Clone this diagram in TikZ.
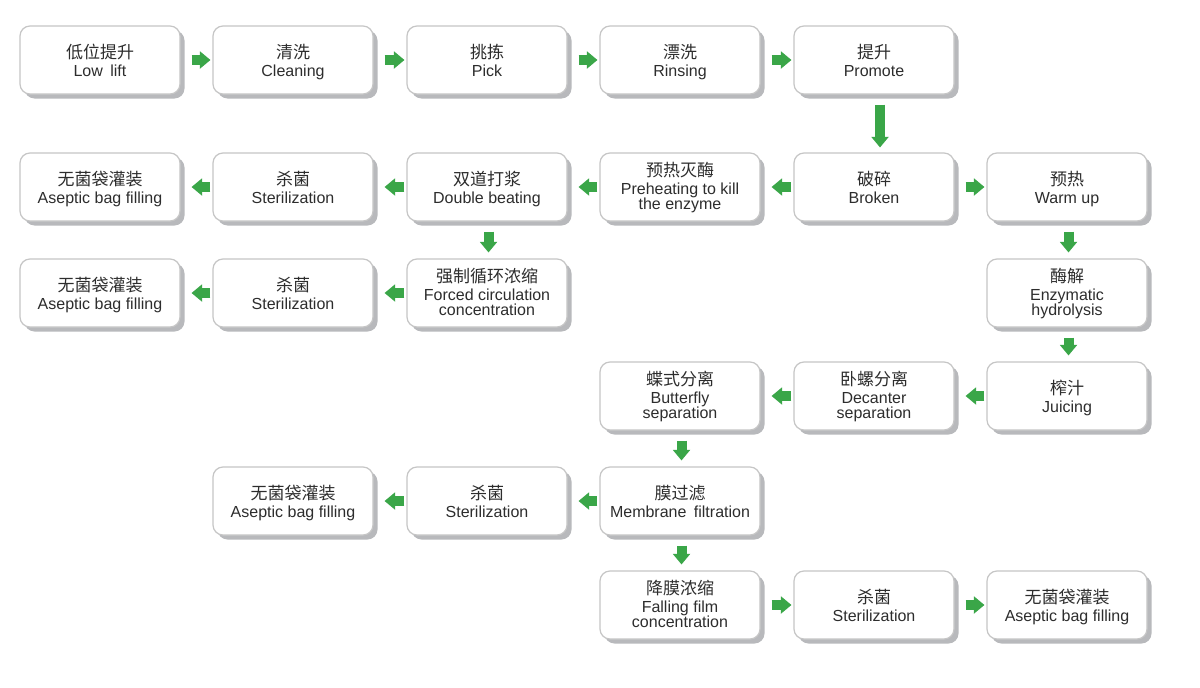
\documentclass[tikz,border=0pt]{standalone}
\usepackage{fontspec}
\setmainfont{Liberation Sans}
\newfontfamily\cnfont{Noto Sans CJK SC}
\usetikzlibrary{arrows.meta,shadows,calc}
\definecolor{agreen}{RGB}{58,166,72}
\definecolor{bordergray}{RGB}{198,198,198}
\definecolor{shadowgray}{RGB}{184,185,188}
\definecolor{txt}{RGB}{45,45,45}
\tikzset{
  stepbox/.style={draw=bordergray, line width=1.2pt, fill=white, rounded corners=10pt,
    minimum width=160pt, minimum height=68pt, inner sep=0pt,
    drop shadow={shadow xshift=4.5pt, shadow yshift=-4.5pt, fill=shadowgray, opacity=1}},
  cntext/.style={anchor=base, inner sep=0pt, text=txt, font=\cnfont\fontsize{17}{20}\selectfont},
  entext/.style={anchor=base, inner sep=0pt, text=txt, font=\fontsize{16}{18}\selectfont},
  garrow/.style={draw=agreen, line width=10pt, -{Triangle[width=17.5pt,length=10.5pt,line width=0pt]}},
}
% two-line box: name, cx, cy, chinese, english
\newcommand\boxtwo[5]{%
  \node[stepbox] (#1) at (#2,#3) {};
  \node[cntext] (#1-cn) at ($(#1.center)+(0,-1.5)$) {#4};
  \node[entext] (#1-en) at ($(#1.center)+(0,16.5)$) {#5};
}
% three-line box: name, cx, cy, chinese, english 1, english 2
\newcommand\boxthree[6]{%
  \node[stepbox] (#1) at (#2,#3) {};
  \node[cntext] (#1-cn) at ($(#1.center)+(0,-10.5)$) {#4};
  \node[entext] (#1-ena) at ($(#1.center)+(0,7.5)$) {#5};
  \node[entext] (#1-enb) at ($(#1.center)+(0,22.5)$) {#6};
}
\newcommand\rarr[2]{\draw[garrow] ($(#1.east)+(11,0)$) -- ($(#2.west)+(-2,0)$);}
\newcommand\larr[2]{\draw[garrow] ($(#1.west)+(-2,0)$) -- ($(#2.east)+(11,0)$);}
\newcommand\darr[2]{\draw[garrow] ($(#1.south)+(1.5,10)$) -- ($(#2.north)+(1.5,-6)$);}
\begin{document}
\begin{tikzpicture}[x=1pt,y=-1pt]
\fill[white] (0,0) rectangle (1200,688);
\useasboundingbox (0,0) rectangle (1200,688);
% row 1
\boxtwo{r1c1}{100}{60}{低位提升}{Low\kern3pt\ lift}
\boxtwo{r1c2}{293}{60}{清洗}{Cleaning}
\boxtwo{r1c3}{487}{60}{挑拣}{Pick}
\boxtwo{r1c4}{680}{60}{漂洗}{Rinsing}
\boxtwo{r1c5}{874}{60}{提升}{Promote}
% row 2
\boxtwo{r2c1}{100}{187}{无菌袋灌装}{Aseptic bag filling}
\boxtwo{r2c2}{293}{187}{杀菌}{Sterilization}
\boxtwo{r2c3}{487}{187}{双道打浆}{Double beating}
\boxthree{r2c4}{680}{187}{预热灭酶}{Preheating to kill}{the enzyme}
\boxtwo{r2c5}{874}{187}{破碎}{Broken}
\boxtwo{r2c6}{1067}{187}{预热}{Warm up}
% row 3
\boxtwo{r3c1}{100}{293}{无菌袋灌装}{Aseptic bag filling}
\boxtwo{r3c2}{293}{293}{杀菌}{Sterilization}
\boxthree{r3c3}{487}{293}{强制循环浓缩}{Forced circulation}{concentration}
\boxthree{r3c6}{1067}{293}{酶解}{Enzymatic}{hydrolysis}
% row 4
\boxthree{r4c4}{680}{396}{蝶式分离}{Butterfly}{separation}
\boxthree{r4c5}{874}{396}{卧螺分离}{Decanter}{separation}
\boxtwo{r4c6}{1067}{396}{榨汁}{Juicing}
% row 5
\boxtwo{r5c2}{293}{501}{无菌袋灌装}{Aseptic bag filling}
\boxtwo{r5c3}{487}{501}{杀菌}{Sterilization}
\boxtwo{r5c4}{680}{501}{膜过滤}{Membrane\kern3pt\ filtration}
% row 6
\boxthree{r6c4}{680}{605}{降膜浓缩}{Falling film}{concentration}
\boxtwo{r6c5}{874}{605}{杀菌}{Sterilization}
\boxtwo{r6c6}{1067}{605}{无菌袋灌装}{Aseptic bag filling}
% arrows
\rarr{r1c1}{r1c2}
\rarr{r1c2}{r1c3}
\rarr{r1c3}{r1c4}
\rarr{r1c4}{r1c5}
\draw[garrow] ($(r1c5.south)+(6,10)$) -- ($(r2c5.north)+(6,-5)$);
\larr{r2c5}{r2c4}
\larr{r2c4}{r2c3}
\larr{r2c3}{r2c2}
\larr{r2c2}{r2c1}
\rarr{r2c5}{r2c6}
\darr{r2c3}{r3c3}
\darr{r2c6}{r3c6}
\larr{r3c3}{r3c2}
\larr{r3c2}{r3c1}
\darr{r3c6}{r4c6}
\larr{r4c6}{r4c5}
\larr{r4c5}{r4c4}
\darr{r4c4}{r5c4}
\larr{r5c4}{r5c3}
\larr{r5c3}{r5c2}
\darr{r5c4}{r6c4}
\rarr{r6c4}{r6c5}
\rarr{r6c5}{r6c6}
\end{tikzpicture}
\end{document}
